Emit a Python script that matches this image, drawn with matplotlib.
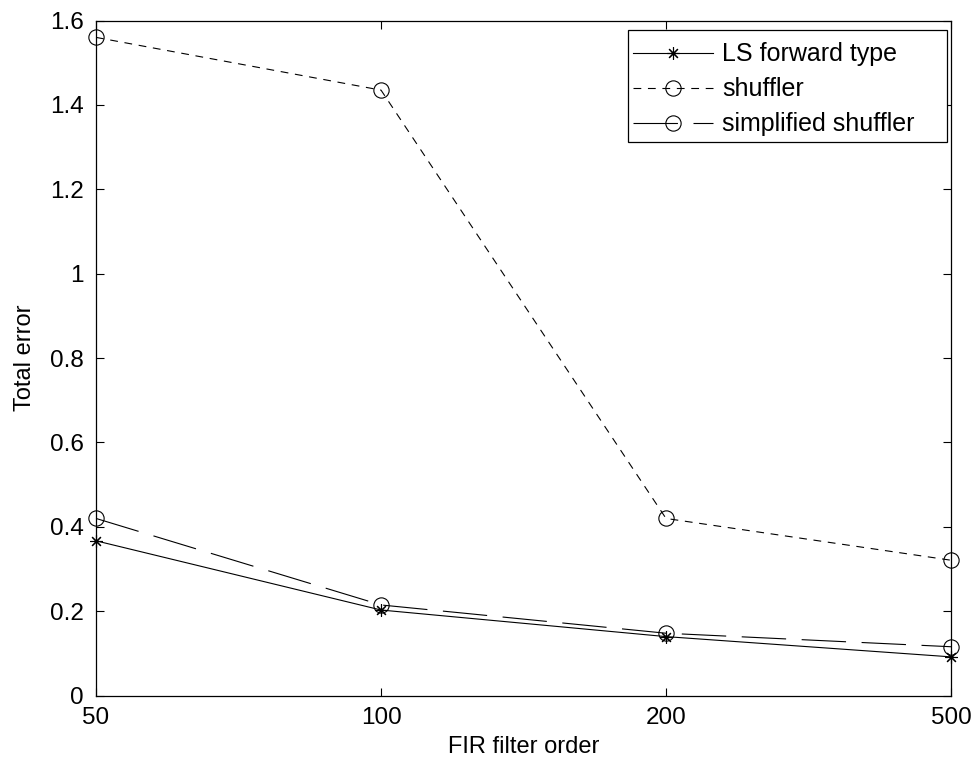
import matplotlib
matplotlib.use("Agg")
import matplotlib.pyplot as plt
from matplotlib.patches import Rectangle

plt.rcParams['font.family'] = ['Liberation Sans', 'DejaVu Sans']

orders = ["50", "100", "200", "500"]
ls_forward = [0.367, 0.203, 0.140, 0.092]
shuffler = [1.560, 1.435, 0.420, 0.321]
simplified = [0.420, 0.215, 0.148, 0.116]
yticks = [0, 0.2, 0.4, 0.6, 0.8, 1, 1.2, 1.4, 1.6]
ytick_labels = ["0", "0.2", "0.4", "0.6", "0.8", "1", "1.2", "1.4", "1.6"]

fig = plt.figure(figsize=(9.78, 7.65), dpi=100)
ax = fig.add_axes([0.0982, 0.0906, 0.8742, 0.8826])

x = list(range(1, len(orders) + 1))
lw = 0.8
ax.plot(x, ls_forward, color='black', lw=lw, marker=(8, 2, 0), ms=9,
        mew=0.8, label='LS forward type', clip_on=False)
ax.plot(x, shuffler, color='black', lw=lw, dashes=(7, 6), marker='o', ms=11,
        mfc='none', mew=0.8, label='shuffler', clip_on=False)
ax.plot(x, simplified, color='black', lw=lw, dashes=(40, 14), marker='o', ms=11,
        mfc='none', mew=0.8, label='simplified shuffler', clip_on=False)

ax.set_xlim(1, 4)
ax.set_ylim(0, 1.6)
ax.set_xticks(x)
ax.set_xticklabels(orders)
ax.set_yticks(yticks)
ax.set_yticklabels(ytick_labels)
ax.tick_params(axis='both', direction='in', length=6, width=0.8, labelsize=17.5,
               top=True, right=True)
ax.tick_params(axis='y', pad=9)
ax.tick_params(axis='x', pad=8)
for s in ax.spines.values():
    s.set_linewidth(0.9)

ax.set_xlabel("FIR filter order", fontsize=17, labelpad=5)
ax.set_ylabel("Total error", fontsize=17, labelpad=10)

# legend box drawn separately so it can carry extra right-hand padding
box = Rectangle((0.6222, 0.8194), 0.9953 - 0.6222, 0.9852 - 0.8194,
                transform=ax.transAxes, facecolor='white', edgecolor='black',
                lw=0.9, zorder=4)
ax.add_patch(box)
leg = ax.legend(loc='upper left', bbox_to_anchor=(0.628, 0.9675),
                fontsize=18, frameon=False, handlelength=3.2,
                handletextpad=0.36, borderpad=0.0, labelspacing=0.44,
                borderaxespad=0.0)
leg.set_zorder(5)

fig.savefig("out.png", dpi=100)
